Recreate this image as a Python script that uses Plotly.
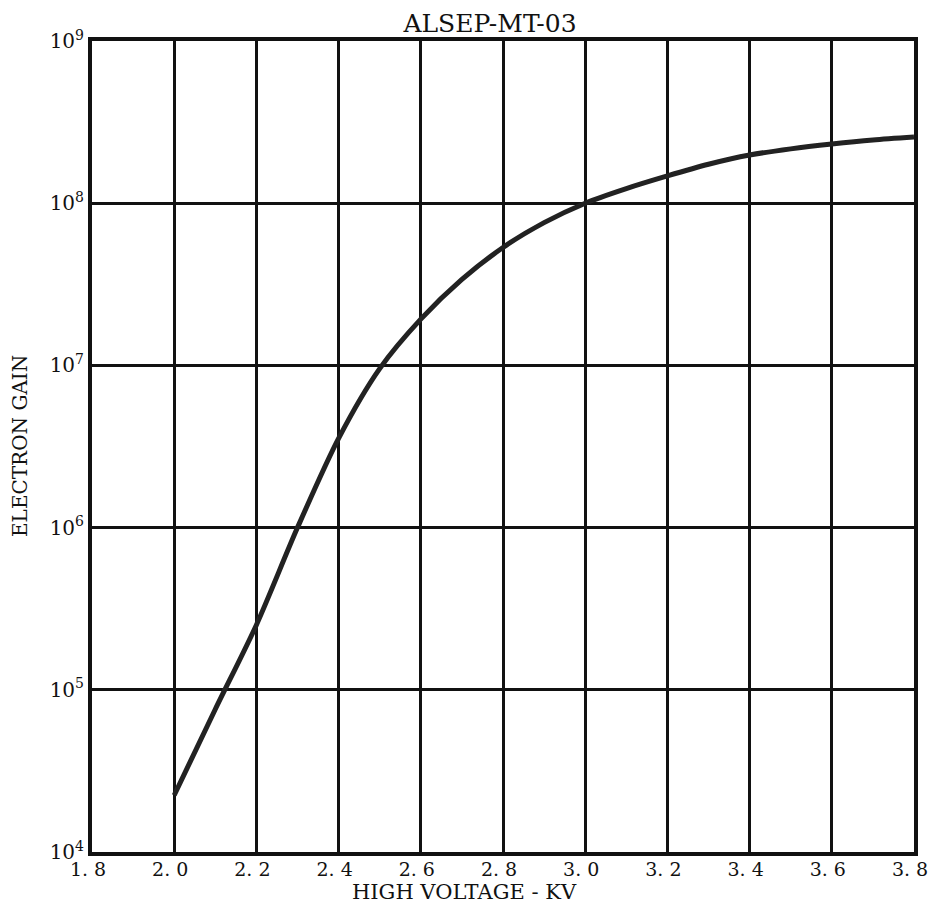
import plotly.graph_objects as go

# Curve data (high voltage in kV, electron gain)
voltage_kv = [2.0, 2.1, 2.2, 2.3, 2.4, 2.5, 2.6, 2.7, 2.8, 2.9, 3.0, 3.1, 3.2, 3.3, 3.4, 3.5, 3.6, 3.7, 3.8]
log_gain = [4.35, 4.88, 5.40, 6.00, 6.55, 6.98, 7.285, 7.53, 7.727, 7.88, 8.0, 8.09, 8.168, 8.24, 8.297, 8.335, 8.365, 8.39, 8.408]
electron_gain = [10 ** v for v in log_gain]

x_tick_vals = [1.8, 2.0, 2.2, 2.4, 2.6, 2.8, 3.0, 3.2, 3.4, 3.6, 3.8]
x_tick_text = ["1. 8", "2. 0", "2. 2", "2. 4", "2. 6", "2. 8", "3. 0", "3. 2", "3. 4", "3. 6", "3. 8"]
y_tick_vals = [1e4, 1e5, 1e6, 1e7, 1e8, 1e9]
y_tick_text = ["10<sup>4</sup>", "10<sup>5</sup>", "10<sup>6</sup>", "10<sup>7</sup>", "10<sup>8</sup>", "10<sup>9</sup>"]

W, H = 932, 906
L, R, T, B = 92, 18, 41, 54
pw, ph = W - L - R, H - T - B

def px_x(sx):  # screen x -> paper x
    return (sx - L) / pw

def px_y(sy):  # screen y -> paper y
    return (H - B - sy) / ph

fig = go.Figure()
fig.add_trace(go.Scatter(
    x=voltage_kv, y=electron_gain, mode="lines",
    line=dict(color="#222222", width=5, shape="spline", smoothing=0.8),
    showlegend=False, hoverinfo="x+y",
))

fig.update_layout(
    width=W, height=H,
    margin=dict(l=L, r=R, t=T, b=B),
    paper_bgcolor="white", plot_bgcolor="white",
    title=dict(text="ALSEP-MT-03", x=490 / W, xanchor="center", y=1 - 23 / H, yanchor="middle",
               font=dict(family="DejaVu Serif", size=25, color="#111")),
    font=dict(family="DejaVu Serif", color="#111"),
    annotations=[
        dict(text="HIGH VOLTAGE - KV", xref="paper", yref="paper",
             x=px_x(464), y=px_y(892), xanchor="center", yanchor="middle",
             showarrow=False, font=dict(family="DejaVu Serif", size=21, color="#111")),
        dict(text="ELECTRON GAIN", xref="paper", yref="paper", textangle=-90,
             x=px_x(20), y=px_y(446), xanchor="center", yanchor="middle",
             showarrow=False, font=dict(family="DejaVu Serif", size=20, color="#111")),
    ],
)
fig.update_xaxes(
    range=[1.8, 3.8], tickmode="array", tickvals=x_tick_vals, ticktext=x_tick_text,
    showgrid=True, gridcolor="#111", gridwidth=3,
    showline=True, linecolor="#111", linewidth=4, mirror=True,
    zeroline=False, ticks="", automargin=False,
    ticklabeloverflow="allow", ticklabelshift=-4, ticklabelstandoff=-3,
    tickfont=dict(family="DejaVu Serif", size=19, color="#111"),
)
fig.update_yaxes(
    type="log", range=[4, 9], tickmode="array", tickvals=y_tick_vals, ticktext=y_tick_text,
    showgrid=True, gridcolor="#111", gridwidth=3,
    showline=True, linecolor="#111", linewidth=4, mirror=True,
    zeroline=False, ticks="", automargin=False,
    tickfont=dict(family="DejaVu Serif", size=20, color="#111"),
)

# remove the default 8px page margin so the figure fills the window exactly
fig.write_html("out.html", config={"displayModeBar": False},
               post_script="document.body.style.margin='0';document.body.style.overflow='hidden';")
